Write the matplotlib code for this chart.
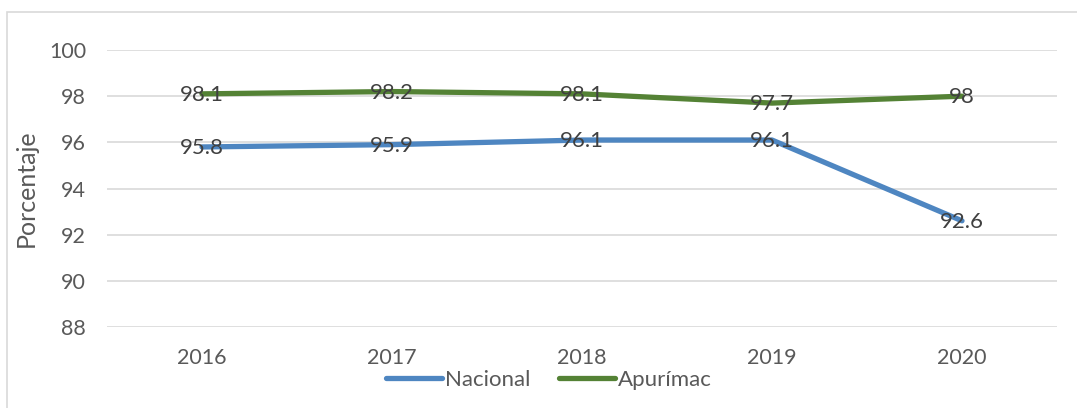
import matplotlib
matplotlib.use("Agg")
import matplotlib.pyplot as plt
from matplotlib.patches import Rectangle

years = ["2016", "2017", "2018", "2019", "2020"]
nacional = [95.8, 95.9, 96.1, 96.1, 92.6]
apurimac = [98.1, 98.2, 98.1, 97.7, 98.0]
label_nacional = ["95.8", "95.9", "96.1", "96.1", "92.6"]
label_apurimac = ["98.1", "98.2", "98.1", "97.7", "98"]
yticks = [88, 90, 92, 94, 96, 98, 100]

plt.rcParams['font.family'] = ['Lato', 'DejaVu Sans']

W, H = 1077, 408
fig = plt.figure(figsize=(W/100, H/100), dpi=100)
ax = fig.add_axes([107/W, 1-327/H, 950/W, 277/H])

# outer border
fig.patches.append(Rectangle((7/W, -0.05), 1.1, 1-12/H+0.05, transform=fig.transFigure,
                             fill=False, edgecolor='#d9d9d9', linewidth=1.2))

blue = '#4e86c1'
green = '#548235'
x = list(range(len(years)))
ax.plot(x, nacional, color=blue, linewidth=3.8, solid_capstyle='round', label='Nacional', zorder=3)
ax.plot(x, apurimac, color=green, linewidth=3.8, solid_capstyle='round', label='Apurímac', zorder=3)

for xi, v, t in zip(x, nacional, label_nacional):
    ax.text(xi, v - 0.05, t, ha='center', va='center', fontsize=16, color='#404040', zorder=4)
for xi, v, t in zip(x, apurimac, label_apurimac):
    ax.text(xi, v - 0.05, t, ha='center', va='center', fontsize=16, color='#404040', zorder=4)

ax.set_xlim(-0.5, 4.5)
ax.set_ylim(88, 100)
ax.set_yticks(yticks)
ax.set_xticks(x)
ax.set_xticklabels(years)
ax.tick_params(length=0, labelsize=15.5, labelcolor='#595959')
ax.tick_params(axis='y', pad=15)
ax.tick_params(axis='x', pad=15)
ax.grid(axis='y', color='#d9d9d9', linewidth=1.2)
ax.set_axisbelow(True)
for s in ax.spines.values():
    s.set_visible(False)
ax.set_ylabel('Porcentaje', fontsize=18, color='#595959', labelpad=8)

leg = fig.legend(loc='center', bbox_to_anchor=(549/W, 1-380/H), ncol=2, frameon=False,
                 fontsize=16, handlelength=2.5, handletextpad=0.15, columnspacing=1.3)
for t in leg.get_texts():
    t.set_color('#595959')

fig.savefig('out.png', dpi=100)
